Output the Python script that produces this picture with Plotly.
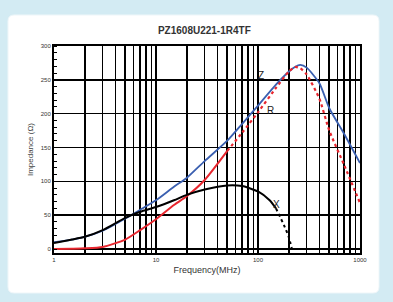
import plotly.graph_objects as go
import numpy as np

title = "PZ1608U221-1R4TF"
freq_z = [1, 1.5, 2, 3, 5, 7, 10, 15, 20, 30, 50, 70, 100, 150, 200, 230, 260, 300, 400, 500, 700, 1000]
z_vals = [10, 14, 18, 27, 45, 58, 72, 92, 105, 130, 160, 185, 212, 243, 262, 269, 272, 268, 245, 208, 170, 127]

freq_r_solid = [1, 1.5, 2, 3, 5, 7, 10, 15, 20, 30, 50]
r_solid = [0, 0.5, 1, 3, 14, 28, 44, 65, 78, 102, 145]
freq_r_dot = [50, 70, 100, 150, 200, 230, 260, 300, 400, 500, 700, 1000]
r_dot = [145, 172, 202, 238, 262, 269, 267, 258, 222, 175, 124, 68]

freq_x_solid = [1, 1.5, 2, 3, 5, 7, 10, 15, 20, 30, 50, 70, 100, 130, 150]
x_solid = [9, 14, 18, 28, 46, 55, 62, 72, 80, 88, 94, 93, 85, 72, 60]
freq_x_dot = [150, 180, 200, 215]
x_dot = [60, 35, 18, 0]

ref_level = 50
y_ticks = [0, 50, 100, 150, 200, 250, 300]
x_major = [1, 10, 100, 1000]

labels = [("Z", 108, 257), ("R", 132, 205), ("X", 152, 66)]

blue = "#3a5fb0"
red = "#e8262e"

fig = go.Figure()
fig.add_trace(go.Scatter(x=freq_z, y=z_vals, mode="lines", line=dict(color=blue, width=1.8, shape="spline", smoothing=0.6), showlegend=False))
fig.add_trace(go.Scatter(x=freq_r_solid, y=r_solid, mode="lines", line=dict(color=red, width=2, shape="spline", smoothing=0.6), showlegend=False))
fig.add_trace(go.Scatter(x=freq_r_dot, y=r_dot, mode="lines", line=dict(color=red, width=2.2, dash="dot", shape="spline", smoothing=0.6), showlegend=False))
fig.add_trace(go.Scatter(x=freq_x_solid, y=x_solid, mode="lines", line=dict(color="black", width=2, shape="spline", smoothing=0.6), showlegend=False))
fig.add_trace(go.Scatter(x=freq_x_dot, y=x_dot, mode="lines", line=dict(color="black", width=2, dash="dot", shape="spline", smoothing=0.6), showlegend=False))

for t, fx, fy in labels:
    fig.add_annotation(x=np.log10(fx), y=fy, text=t, showarrow=False,
                       font=dict(size=10, color="#222", family="Liberation Sans"))

fig.add_hline(y=ref_level, line=dict(color="black", width=2.5), layer="below")

# grid vals
x_grid = [m * 10 ** d for d in range(3) for m in range(1, 10)] + [1000]
x_text = [str(v) if v in x_major else "" for v in x_grid]

# panel background (paper coords)
L, R_, T, B = 54, 360, 46, 253
W, H = R_ - L, B - T
def px(x): return (x - L) / W
def py(y): return (B - y) / H
x0, x1, y0, y1 = px(8), px(379), py(293), py(15)
rx, ry = 6 / W, 6 / H
path = (f"M {x0+rx},{y0} L {x1-rx},{y0} Q {x1},{y0} {x1},{y0+ry} L {x1},{y1-ry} Q {x1},{y1} {x1-rx},{y1} "
        f"L {x0+rx},{y1} Q {x0},{y1} {x0},{y1-ry} L {x0},{y0+ry} Q {x0},{y0} {x0+rx},{y0} Z")
fig.add_shape(type="path", path=path, xref="paper", yref="paper", fillcolor="white",
              line=dict(color="#eef6f9", width=1), layer="below")

fig.update_layout(
    width=393, height=302,
    margin=dict(l=L, r=393 - R_, t=T, b=302 - B, autoexpand=False),
    paper_bgcolor="#d3ebf3", plot_bgcolor="rgba(0,0,0,0)",
    title=dict(text=f"<b>{title}</b>", x=0.52, xanchor="center", y=0.9, yanchor="middle",
               font=dict(size=10, color="#333", family="Liberation Sans")),
    font=dict(family="Liberation Sans"),
)
fig.update_xaxes(type="log", range=[0, 3], tickvals=x_grid, ticktext=x_text, automargin=False,
                 showgrid=True, gridcolor="black", gridwidth=1.6,
                 showline=True, linecolor="black", linewidth=2, mirror=True,
                 ticks="", tickfont=dict(size=6, color="#333"),
                 title=dict(text="Frequency(MHz)", font=dict(size=9, color="#333"), standoff=4))
fig.update_yaxes(range=[-5.9, 300], tickvals=y_ticks, automargin=False,
                 showgrid=True, gridcolor="black", gridwidth=1.6,
                 showline=True, linecolor="black", linewidth=2, mirror=True, zeroline=False,
                 ticks="", tickfont=dict(size=6, color="#333"),
                 minor=dict(dtick=10, ticks="inside", ticklen=3, tickcolor="black", showgrid=False),
                 title=dict(text="Impedance (Ω)", font=dict(size=8, color="#444"), standoff=6))

fig.write_html("out.html", config={"displayModeBar": False, "staticPlot": True},
               post_script="document.body.style.margin='0';document.body.style.overflow='hidden';")
